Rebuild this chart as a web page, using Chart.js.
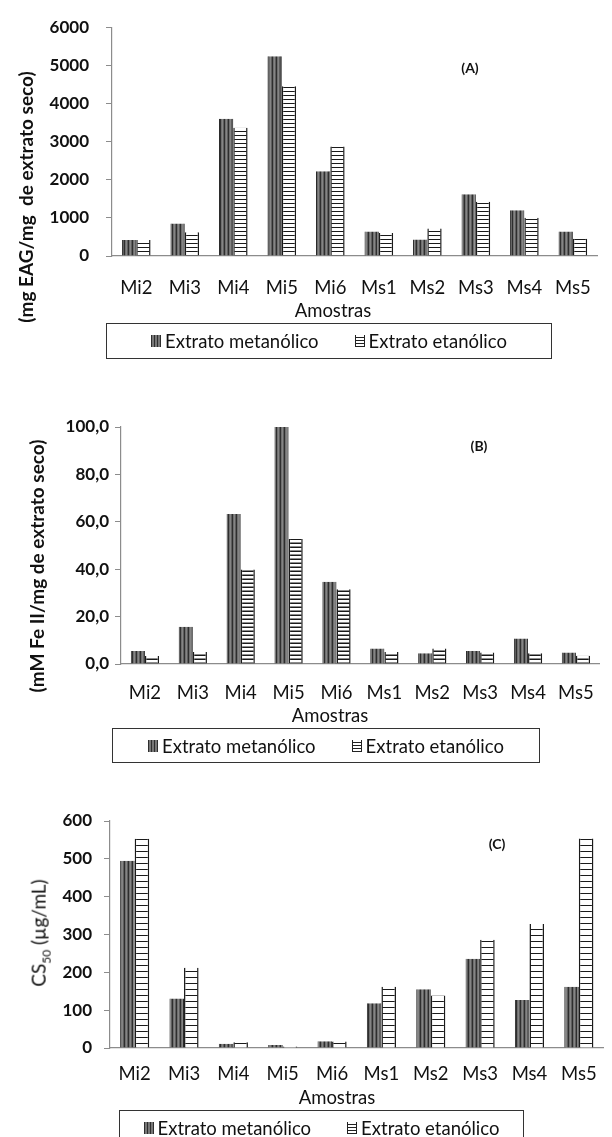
<!DOCTYPE html>
<html><head><meta charset="utf-8">
<script src="https://cdn.jsdelivr.net/npm/chart.js@4.4.1/dist/chart.umd.min.js"></script>
<style>
body{margin:0;background:#fff;width:612px;height:1137px;position:relative;overflow:hidden;font-family:Lato,"Open Sans",sans-serif;color:#111;}
canvas.cv{position:absolute;left:0;}
.ytitle{position:absolute;white-space:nowrap;transform:translate(-50%,-50%) rotate(-90deg);font-weight:bold;font-size:19px;}
.plabel{position:absolute;font-weight:bold;font-size:14px;transform:translate(-50%,-50%);}
.xtitle{position:absolute;font-size:18.5px;transform:translate(-50%,-50%);white-space:nowrap;}
.legend{position:absolute;border:1.5px solid #333;box-sizing:border-box;display:flex;align-items:center;justify-content:center;font-size:18.5px;white-space:nowrap;}
.legend .it{display:flex;align-items:center;}
.legend .it + .it{margin-left:36px;}
.sw{display:inline-block;width:10px;height:12px;margin-right:4px;box-sizing:border-box;}
.sw.met{background:repeating-linear-gradient(90deg,#2e2e2e 0 1px,#777 1px 3px);}
.sw.et{border-left:1px solid #222;border-right:1px solid #222;background:repeating-linear-gradient(180deg,#fff 0 2px,#222 2px 3px);}
</style></head>
<body>
<canvas id="cA" class="cv" width="612" height="305" style="top:0px"></canvas>
<canvas id="cB" class="cv" width="612" height="330" style="top:380px"></canvas>
<canvas id="cC" class="cv" width="612" height="310" style="top:780px"></canvas>

<div class="ytitle" style="left:25px;top:197px">(mg EAG/mg&nbsp; de extrato seco)</div>
<div class="ytitle" style="left:36px;top:566px">(mM Fe II/mg de extrato seco)</div>
<div class="ytitle" style="left:40px;top:933px;font-weight:normal">CS<sub style="font-size:12px">50</sub> (µg/mL)</div>

<div class="plabel" style="left:470px;top:67px">(A)</div>
<div class="plabel" style="left:479px;top:445px">(B)</div>
<div class="plabel" style="left:497px;top:843px">(C)</div>

<div class="xtitle" style="left:333px;top:310px">Amostras</div>
<div class="xtitle" style="left:330px;top:715px">Amostras</div>
<div class="xtitle" style="left:337px;top:1097px">Amostras</div>

<div class="legend" style="left:106px;top:323px;width:446px;height:36px" id="lA"></div>
<div class="legend" style="left:112px;top:728px;width:428px;height:35px" id="lB"></div>
<div class="legend" style="left:119px;top:1110px;width:405px;height:36px" id="lC"></div>

<script>
// ---- data ----
const categories = ['Mi2','Mi3','Mi4','Mi5','Mi6','Ms1','Ms2','Ms3','Ms4','Ms5'];
const seriesNames = ['Extrato metanólico','Extrato etanólico'];
// (A) fenóis totais
const fenolMet = [420, 850, 3600, 5240, 2220, 640, 430, 1620, 1200, 640];
const fenolEt  = [420, 620, 3360, 4450, 2870, 600, 720, 1420, 1000, 450];
// (B) FRAP
const frapMet = [5.5, 15.7, 63.3, 100.0, 34.7, 6.5, 4.5, 5.5, 10.8, 4.9];
const frapEt  = [3.4, 5.1, 39.9, 52.7, 31.5, 5.1, 6.5, 4.8, 4.5, 3.5];
// (C) CS50
const cs50Met = [495, 131, 11, 8, 18, 118, 155, 236, 127, 162];
const cs50Et  = [553, 212, 15, 4, 17, 162, 139, 286, 328, 554];
// tick labels
const ticksA = ['0','1000','2000','3000','4000','5000','6000'];
const ticksB = ['0,0','20,0','40,0','60,0','80,0','100,0'];
const ticksC = ['0','100','200','300','400','500','600'];

// ---- patterns ----
function metPattern(){
  const c=document.createElement('canvas');c.width=4;c.height=4;const x=c.getContext('2d');
  const cols=['#2e2e2e','#6f6f6f','#858585','#5e5e5e'];
  cols.forEach((col,i)=>{x.fillStyle=col;x.fillRect(i,0,1,4);});
  return x.createPattern(c,'repeat');
}
function etPattern(sp){
  const c=document.createElement('canvas');c.width=4;c.height=sp;const x=c.getContext('2d');
  x.fillStyle='#fff';x.fillRect(0,0,4,sp);x.fillStyle='#1a1a1a';x.fillRect(0,sp-1.5,4,1.5);
  return x.createPattern(c,'repeat');
}

const FONT = 'Lato, "Open Sans", sans-serif';

function makeChart(id, met, et, tickLabels, step, max, etSp, L){
  const H = document.getElementById(id).height;
  new Chart(document.getElementById(id), {
    type:'bar',
    data:{labels:categories, datasets:[
      {label:seriesNames[0], data:met, backgroundColor:metPattern(), borderColor:'#2a2a2a',
       borderWidth:{left:1,right:1,top:0,bottom:0}, borderSkipped:'start',
       categoryPercentage:0.59, barPercentage:1.0},
      {label:seriesNames[1], data:et, backgroundColor:etPattern(etSp), borderColor:'#1a1a1a',
       borderWidth:{left:1.5,right:1.5,top:0,bottom:0}, borderSkipped:'start',
       categoryPercentage:0.59, barPercentage:1.0}
    ]},
    options:{
      responsive:false, animation:false, devicePixelRatio:1,
      layout:{padding:{left:0, right:612-L.right, top:L.top, bottom:0}},
      plugins:{legend:{display:false}, tooltip:{enabled:false}},
      scales:{
        x:{grid:{display:false, drawTicks:false}, border:{display:true,color:'#8c8c8c',width:1.2},
           ticks:{font:{family:FONT,size:18.5}, color:'#111', padding:L.xpad, maxRotation:0, autoSkip:false},
           afterFit:s=>{s.height = H - L.bottom;}},
        y:{min:0, max:max, ticks:{stepSize:step, font:{family:FONT,size:17,weight:'bold'}, color:'#111', padding:L.ypad,
             callback:(v)=>tickLabels[Math.round(v/step)]},
           grid:{drawOnChartArea:false, drawTicks:true, tickLength:6, color:'#8c8c8c'},
           border:{display:true,color:'#8c8c8c',width:1.2},
           afterFit:s=>{s.width = L.left;}}
      }
    }
  });
}
makeChart('cA', fenolMet, fenolEt, ticksA, 1000, 6000, 4.5, {left:112,right:606,top:24,bottom:256,xpad:21,ypad:17});
makeChart('cB', frapMet, frapEt, ticksB, 20, 100, 4, {left:121,right:607,top:47,bottom:284,xpad:18,ypad:6});
makeChart('cC', cs50Met, cs50Et, ticksC, 100, 600, 6.5, {left:110,right:605,top:41,bottom:268,xpad:15,ypad:12});

// ---- legends ----
['lA','lB','lC'].forEach(id=>{
  const el=document.getElementById(id);
  el.innerHTML = '<span class="it"><span class="sw met"></span>'+seriesNames[0]+'</span>'+
                 '<span class="it"><span class="sw et"></span>'+seriesNames[1]+'</span>';
});
</script>
</body></html>
